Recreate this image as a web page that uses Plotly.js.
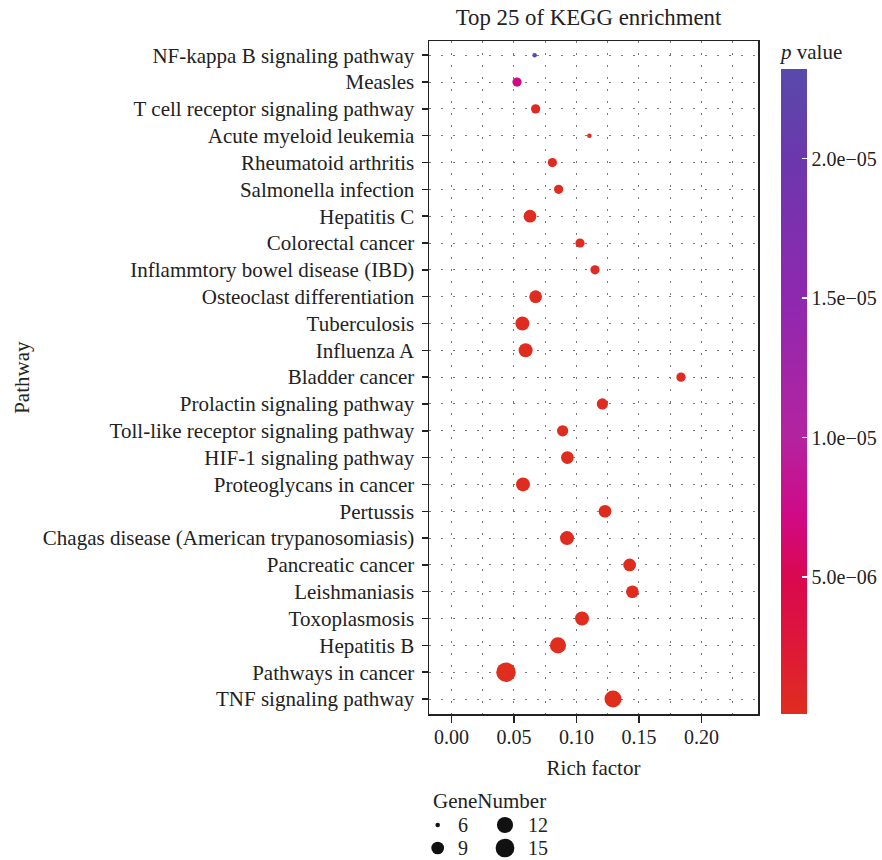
<!DOCTYPE html>
<html><head><meta charset="utf-8">
<script src="https://cdn.plot.ly/plotly-3.0.1.min.js"></script>
<style>html,body{margin:0;padding:0;background:#fff;} #chart{width:882px;height:860px;}</style>
</head><body><div id="chart"></div>
<script>
const pathways = ["NF-kappa B signaling pathway","Measles","T cell receptor signaling pathway","Acute myeloid leukemia","Rheumatoid arthritis","Salmonella infection","Hepatitis C","Colorectal cancer","Inflammtory bowel disease (IBD)","Osteoclast differentiation","Tuberculosis","Influenza A","Bladder cancer","Prolactin signaling pathway","Toll-like receptor signaling pathway","HIF-1 signaling pathway","Proteoglycans in cancer","Pertussis","Chagas disease (American trypanosomiasis)","Pancreatic cancer","Leishmaniasis","Toxoplasmosis","Hepatitis B","Pathways in cancer","TNF signaling pathway"];
const richFactor = [0.0666,0.0525,0.0674,0.1104,0.0808,0.0858,0.0629,0.1029,0.1149,0.0674,0.0568,0.0594,0.1837,0.1208,0.0890,0.0928,0.0573,0.1229,0.0925,0.1426,0.1448,0.1045,0.0853,0.0437,0.1293];
const geneNumber = [6,7,7,6,7,7,9,7,7,9,10,10,7,8,8,9,10,9,10,9,9,10,12,16,13];
const pValue = [2.32e-5,7.2e-6,4.1e-7,3.6e-7,3.9e-7,3.3e-7,2.9e-7,3.4e-7,3.5e-7,2.6e-7,2.2e-7,2.1e-7,3.0e-7,2.7e-7,2.4e-7,2.3e-7,1.9e-7,2.0e-7,1.6e-7,1.5e-7,1.4e-7,1.2e-7,1.0e-7,0.9e-7,0.8e-7];
const sizeBreaks = [6,9,12,15];
const cbTickVals = [5e-6,1e-5,1.5e-5,2e-5];
const cbTickText = ["5.0e\u221206","1.0e\u221205","1.5e\u221205","2.0e\u221205"];

const nMin = Math.min(...geneNumber), nMax = Math.max(...geneNumber);
function sz(n){ return 4.5 + 15*Math.sqrt(Math.max(0,(n-nMin))/(nMax-nMin)); }

const FONT = "Liberation Serif, Times New Roman, serif";
const TXT = '#222';
const colorscale = [
  [0,'rgb(223,45,30)'],[0.10,'rgb(222,25,55)'],[0.21,'rgb(218,8,78)'],[0.31,'rgb(208,10,135)'],
  [0.43,'rgb(180,35,160)'],[0.64,'rgb(143,40,175)'],[0.86,'rgb(108,55,172)'],[1,'rgb(88,74,170)']
];

// main plot occupies upper part; legend keys sit in a small helper subplot below
const mainBottom = 0.1677;

const traces = [{
  type:'scatter', mode:'markers', x: richFactor, y: pathways, xaxis:'x', yaxis:'y', showlegend:false,
  marker:{size: geneNumber.map(sz), color: pValue, colorscale: colorscale,
    cmin: Math.min(...pValue), cmax: Math.max(...pValue), line:{width:0}, opacity:1,
    colorbar:{
      title:{text:'<i>p</i> value', side:'top', font:{size:21, family:FONT, color:TXT}},
      thickness:26, thicknessmode:'pixels', len:674, lenmode:'pixels',
      x:1.0699, xanchor:'left', xref:'paper', y:mainBottom, yanchor:'bottom', ypad:0, xpad:0,
      outlinewidth:0, tickvals: cbTickVals, ticktext: cbTickText,
      ticks:'inside', ticklen:5, tickcolor:'white', tickwidth:1.5,
      tickfont:{size:20, family:FONT, color:TXT}
    }}
}];

// size legend (GeneNumber): two columns of two keys
const legCol = sizeBreaks.map((b,i)=>Math.floor(i/2));
const legRow = sizeBreaks.map((b,i)=>i%2);
traces.push({
  type:'scatter', mode:'markers', x: legCol, y: legRow, xaxis:'x2', yaxis:'y2', showlegend:false,
  cliponaxis:false, hoverinfo:'skip', marker:{size: sizeBreaks.map(sz), color:'#111111', opacity:1, line:{width:0}}
});
const colMax = [0,1].map(c=>Math.max(...sizeBreaks.filter((b,i)=>legCol[i]===c).map(sz)));
const annotations = sizeBreaks.map((b,i)=>({
  text:String(b), x:legCol[i], y:legRow[i], xref:'x2', yref:'y2', xanchor:'left', yanchor:'middle',
  xshift: colMax[legCol[i]]/2 + 12, showarrow:false, font:{size:20, family:FONT, color:TXT}
}));
annotations.push({text:'GeneNumber', xref:'paper', yref:'paper', x:0.006, y:0.0606,
  xanchor:'left', yanchor:'middle', showarrow:false, font:{size:21, family:FONT, color:TXT}});

const gridStyle = {gridcolor:'#7a7a7a', gridwidth:1, griddash:'2px,10px'};
const layout = {
  width:882, height:860, paper_bgcolor:'#fff', plot_bgcolor:'#fff',
  margin:{l:429, r:124, t:41, b:10, autoexpand:false},
  font:{family:FONT, size:21, color:TXT},
  showlegend:false,
  title:{text:'Top 25 of KEGG enrichment', font:{size:22.8, family:FONT, color:TXT}, x:0.4848, xref:'paper', xanchor:'center', y:1-17/860, yref:'container', yanchor:'middle'},
  xaxis:Object.assign({
    anchor:'y', range:[-0.0179, 0.2453], tick0:0, dtick:0.05, tickformat:'.2f', zeroline:false,
    showline:true, mirror:true, linecolor:'#222', linewidth:1.5,
    ticks:'outside', ticklen:7, tickwidth:1.5, tickcolor:'#222', ticklabelstandoff:-3,
    tickfont:{size:20, family:FONT, color:TXT}, showgrid:true,
    minor:Object.assign({dtick:0.025, showgrid:true, ticks:''}, gridStyle),
    title:{text:'Rich factor', font:{size:21, family:FONT, color:TXT}, standoff:13},
    automargin:false
  }, gridStyle),
  yaxis:Object.assign({
    anchor:'x', domain:[mainBottom, 1],
    type:'category', categoryorder:'array', categoryarray: pathways,
    range:[24.57, -0.53], zeroline:false,
    showline:true, mirror:true, linecolor:'#222', linewidth:1.5,
    ticks:'outside', ticklen:6, tickwidth:1.5, tickcolor:'#222', ticklabelstandoff:3,
    tickfont:{size:21, family:FONT, color:TXT}, showgrid:true,
    title:{text:'Pathway', font:{size:21, family:FONT, color:TXT}, standoff:7},
    automargin:false
  }, gridStyle),
  xaxis2:{anchor:'y2', domain:[0,0.5], range:[-0.129, 2.315], visible:false, showgrid:false, zeroline:false},
  yaxis2:{anchor:'x2', domain:[0,0.12], range:[1.087, -3.135], visible:false, showgrid:false, zeroline:false},
  annotations: annotations
};
Plotly.newPlot('chart', traces, layout, {displayModeBar:false, staticPlot:true});
</script></body></html>
